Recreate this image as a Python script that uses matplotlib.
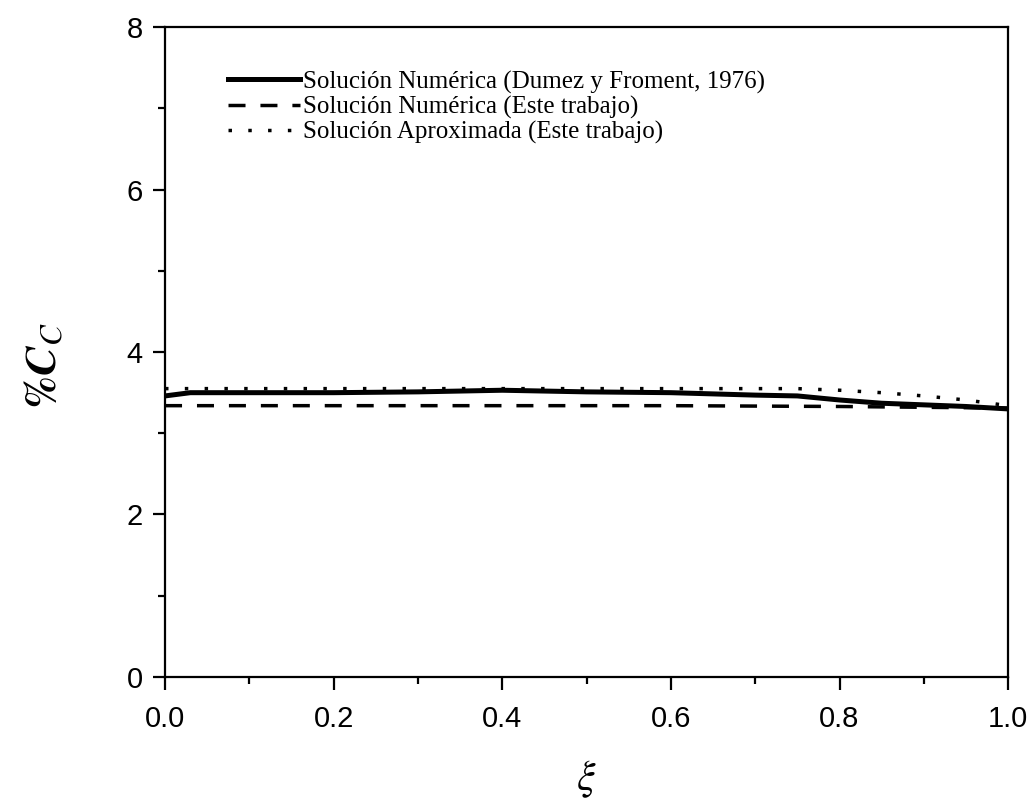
import matplotlib
matplotlib.use("Agg")
import matplotlib.pyplot as plt
from matplotlib.ticker import MultipleLocator, FormatStrFormatter

xi_dumez = [0.0, 0.03, 0.1, 0.2, 0.3, 0.4, 0.5, 0.6, 0.7, 0.75, 0.8, 0.85, 0.9, 0.95, 1.0]
cc_dumez = [3.46, 3.50, 3.50, 3.50, 3.51, 3.53, 3.51, 3.50, 3.47, 3.46, 3.41, 3.37, 3.35, 3.33, 3.30]

xi_num = [0.0, 0.2, 0.4, 0.6, 0.8, 0.9, 1.0]
cc_num = [3.34, 3.34, 3.34, 3.34, 3.33, 3.32, 3.31]

xi_aprox = [0.0, 0.2, 0.4, 0.6, 0.7, 0.75, 0.8, 0.85, 0.9, 0.95, 1.0]
cc_aprox = [3.55, 3.55, 3.55, 3.55, 3.55, 3.55, 3.53, 3.50, 3.46, 3.41, 3.34]

labels = ["Solución Numérica (Dumez y Froment, 1976)",
          "Solución Numérica (Este trabajo)",
          "Solución Aproximada (Este trabajo)"]

plt.rcParams["mathtext.fontset"] = "stix"

fig = plt.figure(figsize=(10.34, 8.02), dpi=100)
ax = fig.add_axes([0.1596, 0.156, 0.8154, 0.810])

ax.plot(xi_dumez, cc_dumez, color="black", lw=3.6, ls="-", label=labels[0])
ax.plot(xi_num, cc_num, color="black", lw=2.5, ls=(0, (4.9, 4.3)), label=labels[1])
ax.plot(xi_aprox, cc_aprox, color="black", lw=2.5, ls=(0, (1, 4.7)), label=labels[2])

ax.set_xlim(0, 1.0)
ax.set_ylim(0, 8)
ax.xaxis.set_major_locator(MultipleLocator(0.2))
ax.xaxis.set_minor_locator(MultipleLocator(0.1))
ax.yaxis.set_major_locator(MultipleLocator(2))
ax.yaxis.set_minor_locator(MultipleLocator(1))
ax.xaxis.set_major_formatter(FormatStrFormatter("%.1f"))
ax.tick_params(which="major", direction="out", length=9, width=1.6, labelsize=21)
ax.tick_params(axis="x", which="major", pad=11)
ax.tick_params(axis="y", which="major", pad=7)
ax.tick_params(which="minor", direction="out", length=5, width=1.6)
for lab in ax.get_xticklabels() + ax.get_yticklabels():
    lab.set_family("Liberation Sans")
for sp in ax.spines.values():
    sp.set_linewidth(1.6)

ax.set_xlabel(r"$\xi$", fontsize=30, labelpad=18)
ax.set_ylabel(r"$\mathbf{\%}\mathbfit{C}_{\mathit{C}}$", fontsize=32)
ax.yaxis.set_label_coords(-0.118, 0.48)

ax.legend(loc="upper left", bbox_to_anchor=(0.048, 0.968), frameon=False,
          prop={"family": "Liberation Serif", "size": 18},
          handlelength=2.9, handletextpad=0.12, labelspacing=0.08)

fig.savefig("out.png", dpi=100)
